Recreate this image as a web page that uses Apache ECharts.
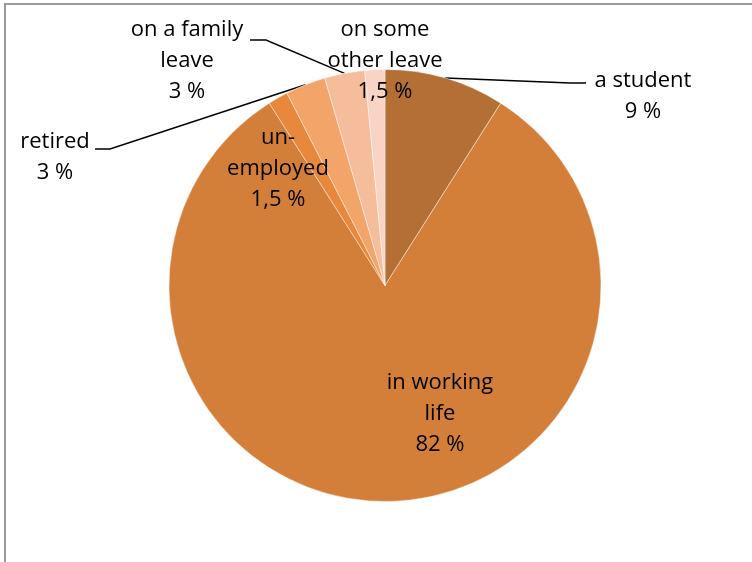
<!DOCTYPE html>
<html>
<head>
<meta charset="utf-8">
<script src="https://cdn.jsdelivr.net/npm/echarts@6/dist/echarts.min.js"></script>
<style>
  html, body { margin: 0; padding: 0; background: #fff; }
  #chart { width: 752px; height: 562px; }
</style>
</head>
<body>
<div id="chart"></div>
<script>
// Status categories, clockwise from 12 o'clock
const categories = ['a student', 'in working life', 'un-employed', 'retired', 'on a family leave', 'on some other leave'];
// Text shown for each category (with its line breaks)
const displayNames = ['a student', 'in working\nlife', 'un-\nemployed', 'retired', 'on a family\nleave', 'on some\nother leave'];
// Shares in percent
const shares = [9, 82, 1.5, 3, 3, 1.5];
const sliceColors = ['#B46F35', '#D37F3A', '#E8883C', '#F3A469', '#F6BD9C', '#F9D4C4'];

// Label centres and, for labels with a leader, where the leader meets the text
const labelCenters = [[643, 96], [440, 414], [278, 169], [55, 157], [187, 61], [385, 61]];
const leaderEnds = [[[570, 83], [586, 83]], null, null, [[110, 149], [95, 149]], [[266, 40], [250, 40]], null];

const fmt = v => String(v).replace('.', ',') + ' %';

const chart = echarts.init(document.getElementById('chart'), null, { renderer: 'canvas' });

chart.setOption({
  backgroundColor: '#fff',
  animation: false,
  graphic: [{
    type: 'rect',
    shape: { x: 5, y: 4, width: 900, height: 700 },
    style: { fill: 'none', stroke: '#9a9a9a', lineWidth: 2 },
    silent: true
  }],
  series: [{
    type: 'pie',
    center: [385, 285.5],
    radius: [0, 216],
    startAngle: 90,
    clockwise: true,
    avoidLabelOverlap: false,
    itemStyle: { borderColor: 'rgba(255,255,255,0.55)', borderWidth: 0.8 },
    label: {
      show: true,
      position: 'outside',
      color: '#000',
      fontFamily: '"Open Sans", sans-serif',
      fontSize: 22,
      lineHeight: 31,
      align: 'center',
      formatter: p => displayNames[p.dataIndex] + '\n' + fmt(p.value)
    },
    labelLine: { show: true, length: 10, length2: 10, lineStyle: { color: '#000', width: 1.5 } },
    labelLayout: function (p) {
      const i = p.dataIndex;
      const c = labelCenters[i];
      const out = { x: c[0], y: c[1], align: 'center', verticalAlign: 'middle' };
      if (leaderEnds[i] && p.labelLinePoints) {
        out.labelLinePoints = [p.labelLinePoints[0], leaderEnds[i][0], leaderEnds[i][1]];
      }
      return out;
    },
    data: categories.map((name, i) => ({
      name: name,
      value: shares[i],
      itemStyle: { color: sliceColors[i] },
      labelLine: { show: leaderEnds[i] !== null }
    }))
  }]
});
</script>
</body>
</html>
